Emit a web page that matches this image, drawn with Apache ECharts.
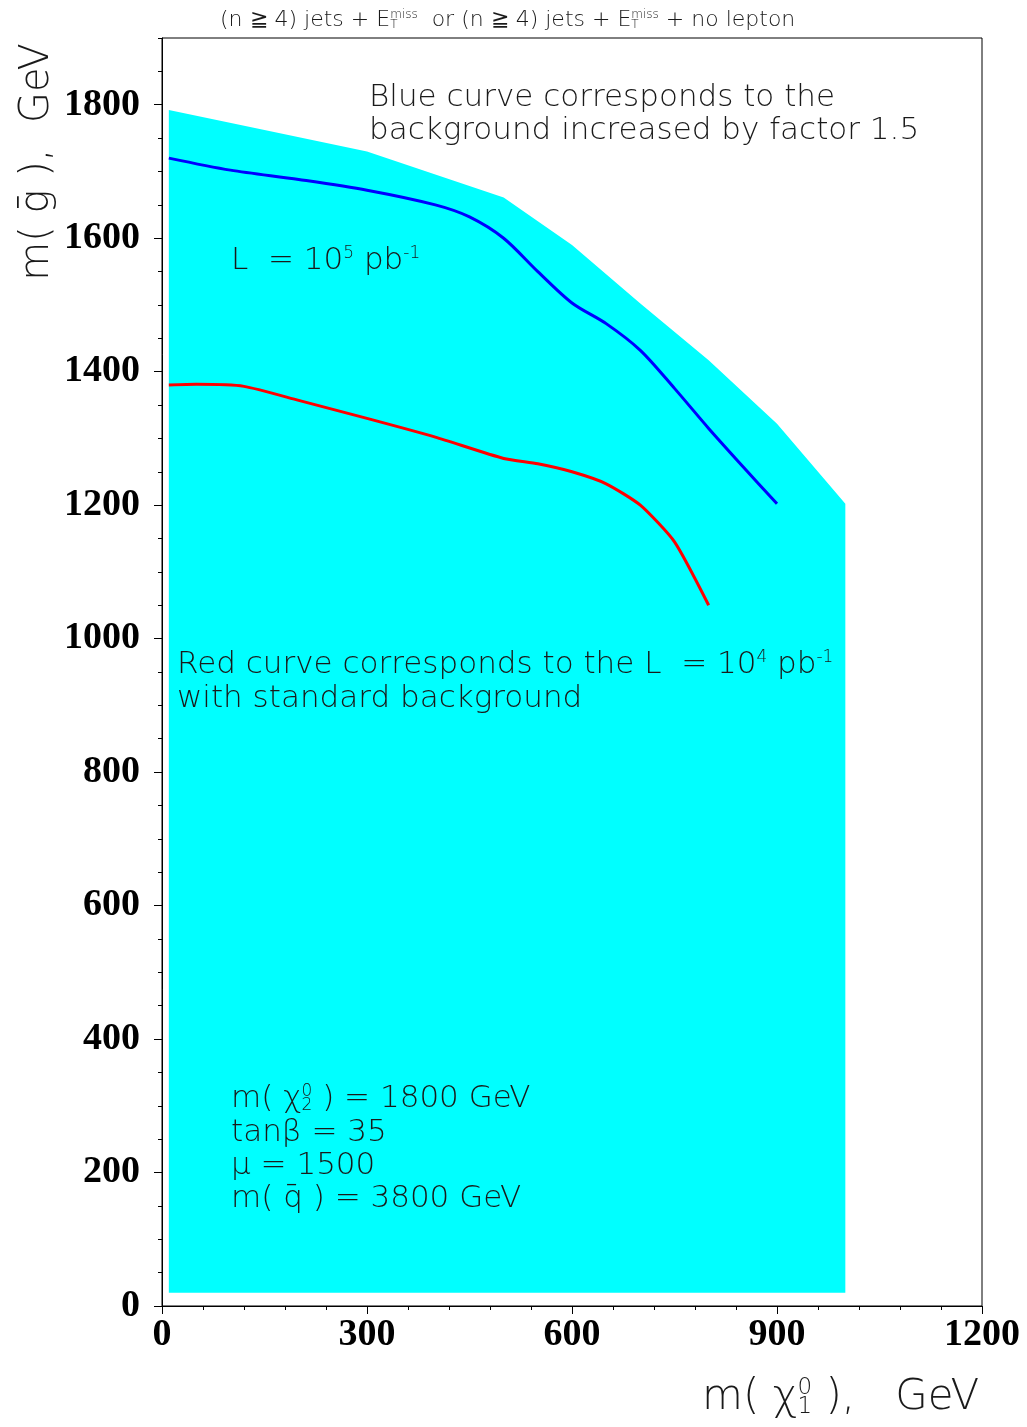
<!DOCTYPE html>
<html>
<head>
<meta charset="utf-8">
<script src="https://cdn.jsdelivr.net/npm/echarts@6/dist/echarts.min.js"></script>
<style>html,body{margin:0;padding:0;background:#fff;}#c{width:1027px;height:1427px;}</style>
</head>
<body>
<div id="c"></div>
<script>
// ---- data ----
const xTickLabels = ['0', '300', '600', '900', '1200'];
const yTickLabels = ['0', '200', '400', '600', '800', '1000', '1200', '1400', '1600', '1800'];

// cyan excluded region (polygon outline)
const regionX = [10, 10, 150, 300, 500, 600, 700, 800, 900, 1000, 1000];
const regionY = [20, 1792, 1762, 1730, 1661, 1590, 1502, 1417, 1322, 1202, 20];

// blue curve: L = 1e5 pb^-1, background x1.5
const blueX = [10, 100, 200, 300, 400, 450, 500, 550, 600, 650, 700, 750, 800, 850, 900];
const blueY = [1720, 1702, 1688, 1672, 1650, 1632, 1600, 1550, 1503, 1472, 1432, 1375, 1315, 1258, 1202];

// red curve: L = 1e4 pb^-1, standard background
const redX = [10, 50, 120, 200, 300, 400, 500, 550, 600, 650, 700, 750, 800];
const redY = [1380, 1381, 1378, 1357, 1330, 1302, 1270, 1262, 1250, 1232, 1200, 1145, 1050];

const F = '"DejaVu Sans", sans-serif';
const TXT = '#1a1a1a';

const chart = echarts.init(document.getElementById('c'));

function richBase(size) {
  return {
    a: { fontSize: size, fontFamily: F, color: TXT, fontWeight: 'lighter' },
    sup: { fontSize: Math.round(size * 0.55), fontFamily: F, color: TXT, verticalAlign: 'top', fontWeight: 'lighter' },
    sub: { fontSize: Math.round(size * 0.55), fontFamily: F, color: TXT, verticalAlign: 'bottom', fontWeight: 'lighter' },
    sub0: { fontSize: Math.round(size * 0.55), fontFamily: F, color: TXT, verticalAlign: 'bottom', width: 0, fontWeight: 'lighter' }
  };
}

function txt(x, y, text, size, extra) {
  return Object.assign({
    type: 'text', left: x, top: y, z: 100,
    style: { text: text, rich: richBase(size), fill: TXT, font: size + 'px ' + F }
  }, extra || {});
}

const option = {
  animation: false,
  backgroundColor: '#fff',
  grid: { left: 162, right: 45, top: 38, bottom: 121, show: true, borderColor: '#000', borderWidth: 1, backgroundColor: 'transparent' },
  xAxis: {
    type: 'value', min: 0, max: 1200, interval: 300,
    axisLine: { show: true, lineStyle: { color: '#000', width: 1 } },
    axisTick: { show: true, length: 8, lineStyle: { color: '#000' } },
    minorTick: { show: true, splitNumber: 5, length: 4, lineStyle: { color: '#000' } },
    splitLine: { show: false },
    axisLabel: {
      margin: 10, color: '#000', fontFamily: '"Liberation Serif", serif', fontWeight: 'bold', fontSize: 38,
      formatter: function (v) { const i = Math.round(v / 300); return xTickLabels[i] !== undefined && v % 300 === 0 ? xTickLabels[i] : ''; }
    }
  },
  yAxis: [{
    type: 'value', min: 0, max: 1900, interval: 200,
    axisLine: { show: true, lineStyle: { color: '#000', width: 1 } },
    axisTick: { show: true, length: 8, lineStyle: { color: '#000' } },
    splitLine: { show: false },
    axisLabel: {
      margin: 22, color: '#000', fontFamily: '"Liberation Serif", serif', fontWeight: 'bold', fontSize: 38,
      showMaxLabel: false,
      formatter: function (v) { const i = Math.round(v / 200); return v % 200 === 0 && yTickLabels[i] !== undefined ? yTickLabels[i] : ''; }
    }
  }, {
    type: 'value', min: 0, max: 1900, interval: 50, position: 'left',
    axisLine: { show: false },
    axisTick: { show: true, length: 4, lineStyle: { color: '#000' } },
    axisLabel: { show: false },
    splitLine: { show: false }
  }],
  series: [{
    type: 'custom',
    silent: true,
    data: regionX.map((x, i) => [x, regionY[i]]),
    encode: { x: 0, y: 1 },
    renderItem: function (params, api) {
      if (params.dataIndex !== 0) return null;
      const pts = regionX.map((x, i) => api.coord([x, regionY[i]]));
      return { type: 'polygon', shape: { points: pts }, style: { fill: '#00ffff' } };
    },
    z: 1
  }, {
    type: 'line',
    data: blueX.map((x, i) => [x, blueY[i]]),
    showSymbol: false, smooth: 0.3,
    lineStyle: { color: '#0000ff', width: 3 },
    z: 3
  }, {
    type: 'line',
    data: redX.map((x, i) => [x, redY[i]]),
    showSymbol: false, smooth: 0.2,
    lineStyle: { color: '#ff0000', width: 3 },
    z: 3
  }],
  graphic: [
    txt(220, 9, '{a|(n ≧ 4) jets + E}{sub0|T}{sup|miss}{a|  or (n ≧ 4) jets + E}{sub0|T}{sup|miss}{a| + no lepton}', 22),
    txt(369, 82, '{a|Blue curve corresponds to the}', 31),
    txt(369, 115, '{a|background increased by factor 1.5}', 31),
    txt(231, 245, '{a|L  = 10}{sup|5}{a| pb}{sup|-1}', 31),
    txt(177, 649, '{a|Red curve corresponds to the L  = 10}{sup|4}{a| pb}{sup|-1}', 31),
    txt(177, 683, '{a|with standard background}', 31),
    txt(231, 1083, '{a|m( χ}{sub0|2}{sup|0}{a| ) = 1800 GeV}', 31),
    txt(231, 1117, '{a|tanβ = 35}', 31),
    txt(231, 1150, '{a|μ = 1500}', 31),
    txt(231, 1183, '{a|m( q̄ ) = 3800 GeV}', 31),
    txt(702, 1377, '{a|m( χ}{sub0|1}{sup|0}{a| ),   GeV}', 42),
    {
      type: 'text', z: 100, x: 38, y: 162, rotation: Math.PI / 2,
      style: { text: '{a|m( ḡ ),  GeV}', rich: richBase(40), align: 'center', verticalAlign: 'middle', fill: TXT }
    }
  ]
};
chart.setOption(option);
</script>
</body>
</html>
